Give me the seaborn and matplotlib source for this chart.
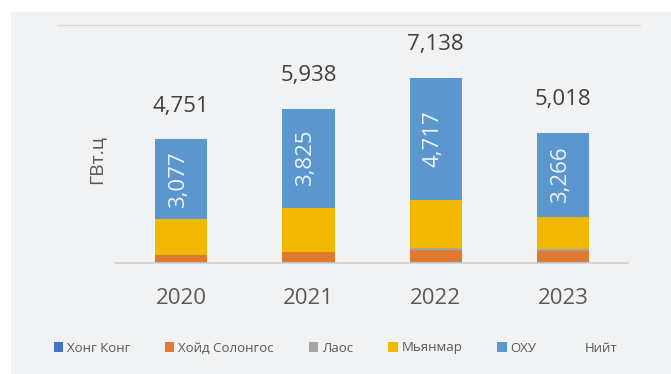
import matplotlib
matplotlib.use("Agg")
import matplotlib.pyplot as plt
from matplotlib.patches import Rectangle, Patch
from matplotlib.lines import Line2D
import numpy as np
import pandas as pd
import seaborn as sns

# Electricity imports by source country, GWh
years = ["2020", "2021", "2022", "2023"]
hong_kong = [3, 2, 3, 2]
north_korea = [305, 385, 470, 460]
laos = [0, 25, 78, 68]
myanmar = [1366, 1701, 1870, 1222]
russia = [3077, 3825, 4717, 3266]
totals = [4751, 5938, 7138, 5018]

series_names = ["Хонг Конг", "Хойд Солонгос", "Лаос", "Мьянмар", "ОХУ"]
series_values = [hong_kong, north_korea, laos, myanmar, russia]
series_colors = ["#4472C4", "#E07A30", "#A5A5A5", "#F2B800", "#5B97CE"]
total_name = "Нийт"

sns.set_theme(style="white")
plt.rcParams["font.family"] = ["Open Sans", "DejaVu Sans"]

text_color = "#595959"
panel_color = "#F1F2F4"

fig = plt.figure(figsize=(6.71, 3.74), dpi=100)
fig.patch.set_facecolor("white")
fig.add_artist(Rectangle((11 / 671, 0), 1 - 11 / 671, 1 - 12 / 374,
                         transform=fig.transFigure, facecolor=panel_color,
                         edgecolor="none", zorder=0))
fig.add_artist(Line2D([57 / 671, 640 / 671], [1 - 25 / 374, 1 - 25 / 374],
                      transform=fig.transFigure, color="#D9D9D9", lw=1.0))

ax = fig.add_axes([115 / 671, 111.5 / 374, 513 / 671, 237.5 / 374])
ax.set_facecolor("none")

# stacked bars: draw cumulative layers from the top of the stack downward
cum = np.zeros(len(years))
cums = []
for vals in series_values:
    cum = cum + np.array(vals, dtype=float)
    cums.append(cum.copy())
for name, c, color in reversed(list(zip(series_names, cums, series_colors))):
    d = pd.DataFrame({"year": years, "value": c})
    sns.barplot(data=d, x="year", y="value", color=color, saturation=1,
                width=0.41, ax=ax, edgecolor="none", linewidth=0, zorder=2)

ax.set_xlim(-0.52, 3.51)
ax.set_ylim(0, 9170)

# totals above each bar
for i, t in enumerate(totals):
    ax.annotate(f"{t:,}", (i, t), xytext=(0, 16), textcoords="offset points",
                ha="center", va="bottom", fontsize=16, color="#404040")

# values of the top segment, rotated inside the bar
bottom_russia = cums[3]
for i, v in enumerate(russia):
    ax.text(i - 0.02, bottom_russia[i] + v / 2, f"{v:,}", rotation=90,
            ha="center", va="center", fontsize=16, color="#EEF3F8")

for s in ["top", "right", "left"]:
    ax.spines[s].set_visible(False)
ax.spines["bottom"].set_color("#D0D0D0")
ax.spines["bottom"].set_linewidth(1.2)
ax.set_yticks([])
ax.tick_params(axis="x", length=0, pad=18, labelsize=16, labelcolor=text_color)
ax.set_xlabel("")
ax.set_ylabel("")

fig.text(96 / 671, 1 - 160 / 374, "ГВт.ц", rotation=90, ha="center", va="center",
         fontsize=14, color=text_color)

handles = [Patch(facecolor=c, edgecolor="none") for c in series_colors]
handles.append(Patch(facecolor="none", edgecolor="none"))
labels = series_names + [total_name]
fig.legend(handles, labels, loc="center", bbox_to_anchor=(0.5, 1 - 348 / 374),
           ncol=6, frameon=False, fontsize=9.5, labelcolor=text_color,
           handlelength=0.7, handleheight=0.7, handletextpad=0.3,
           columnspacing=2.65)

fig.savefig("out.png", dpi=100, facecolor=fig.get_facecolor())
